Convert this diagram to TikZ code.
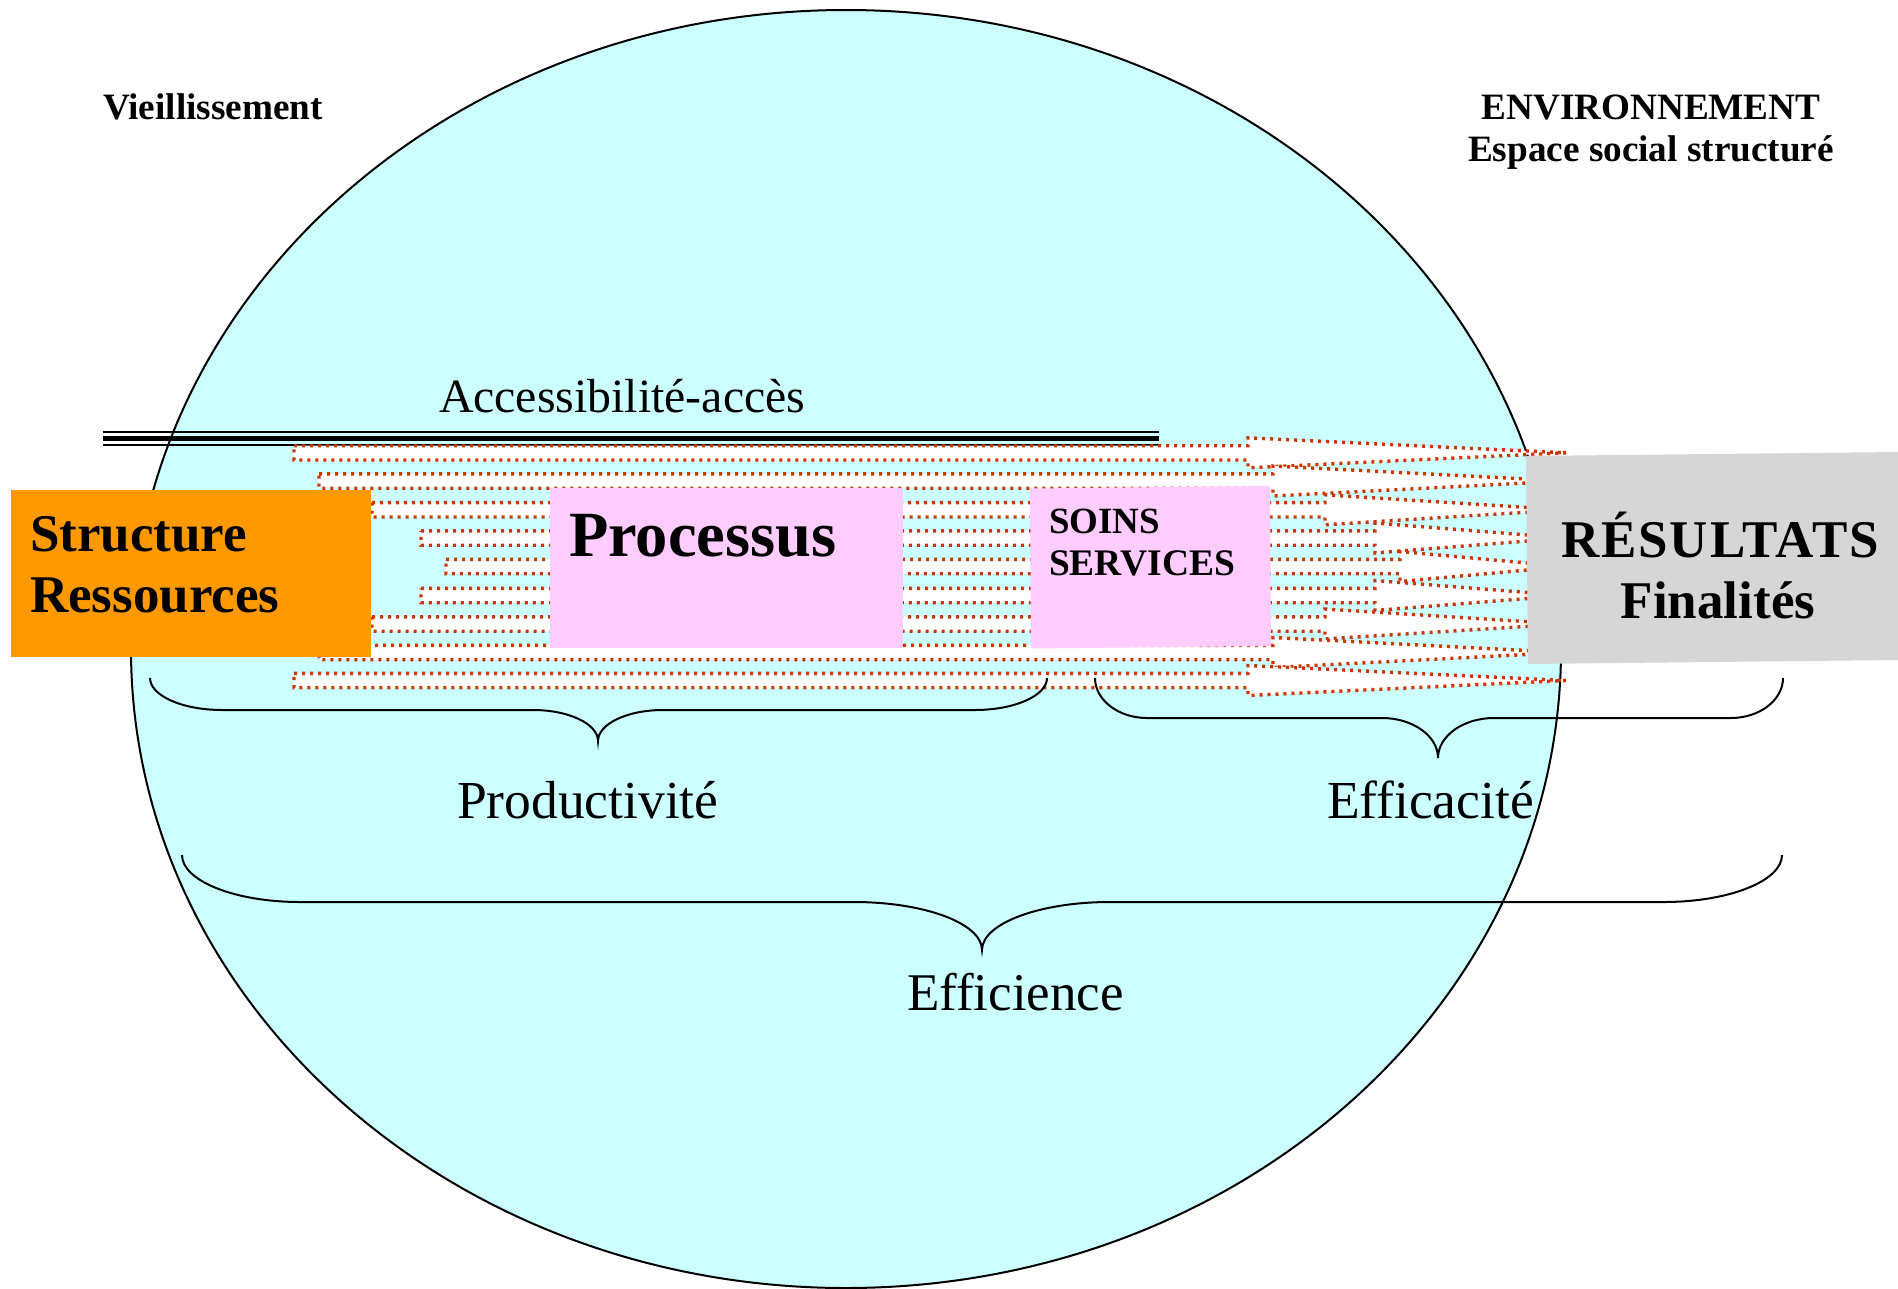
\documentclass[tikz,border=0pt]{standalone}
\usepackage{fontspec}
\setmainfont{Liberation Serif}
\definecolor{ellfill}{RGB}{204,255,255}
\definecolor{orangebox}{RGB}{255,153,0}
\definecolor{pinkbox}{RGB}{255,204,255}
\definecolor{graybox}{RGB}{214,214,214}
\definecolor{dotred}{RGB}{208,50,0}
\newcommand\myfs[1]{\fontsize{#1}{#1}\selectfont}
\begin{document}
\begin{tikzpicture}[x=1pt,y=-1pt,
  lbl/.style={inner sep=0pt, outer sep=0pt, anchor=base west},
  lblc/.style={inner sep=0pt, outer sep=0pt, anchor=base},
  band/.style={fill=white, draw=dotred, line width=3.4pt, line cap=butt, line join=miter, dash pattern=on 3pt off 5pt},
  bracket/.style={draw=black, line width=2pt},
  boxnode/.style={inner sep=0pt, outer sep=0pt, anchor=north west, draw=none}
]
\useasboundingbox (0,0) rectangle (1898,1288);
\fill[white] (0,0) rectangle (1898,1288);

% environment ellipse
\filldraw[fill=ellfill, draw=black, line width=2pt] (846,649) ellipse [x radius=715, y radius=639];

% triple line (Accessibilite)
\draw[line width=2pt] (103,431.5) -- (1159,431.5);
\draw[line width=4.5pt] (103,438.5) -- (1159,438.5);
\draw[line width=2pt] (103,444.5) -- (1159,444.5);

% dotted block arrows
\foreach \L/\B/\c in {294/1248/452.8, 319/1273/481, 372/1325/509.8, 421/1375/538, 446/1400/566.5, 421/1375/595.5, 372/1325/624, 319/1273/652.5, 294/1248/680.5}{
  \path[band] (\L,\c-7.2) -- (\B,\c-7.2) -- (\B,\c-15) -- (1566,\c) -- (\B,\c+15) -- (\B,\c+7.2) -- (\L,\c+7.2) -- cycle;
}

% boxes
\node[boxnode, fill=orangebox, minimum width=360pt, minimum height=167pt] (struct) at (11,490) {};
\node[boxnode, fill=pinkbox, minimum width=353pt, minimum height=160pt] (proc) at (550,487.5) {};
\fill[pinkbox] (1030,488.5) -- (1270,486) -- (1271,646) -- (1031,648.5) -- cycle;
\fill[graybox] (1526,456) -- (1898,452) -- (1898,660) -- (1528,664) -- cycle;

% box texts
\node[lbl, font=\myfs{53}\bfseries] (tstruct) at (30,551) {Structure};
\node[lbl, font=\myfs{53}\bfseries] (tress) at (30,612) {Ressources};
\node[lbl, font=\myfs{64.5}\bfseries] (tproc) at (569,556) {Processus};
\node[lbl, font=\myfs{37}\bfseries] (tsoins) at (1049,533) {SOINS};
\node[lbl, font=\myfs{37.5}\bfseries] (tserv) at (1049,575) {SERVICES};
\node[lblc, font=\myfs{53}\bfseries\addfontfeature{LetterSpace=3.6}] (tres) at (1720,557) {RÉSULTATS};
\node[lblc, font=\myfs{53}\bfseries] (tfin) at (1718,618) {Finalités};

% top labels
\node[lbl, font=\myfs{37.2}\bfseries] (tvieil) at (103,119) {Vieillissement};
\node[lblc, font=\myfs{37.2}\bfseries] (tenv) at (1651,119) {ENVIRONNEMENT};
\node[lblc, font=\myfs{37.2}\bfseries] (tesp) at (1651,161) {Espace social structuré};
\node[lbl, font=\myfs{47.8}] (tacc) at (439,412) {Accessibilité-accès};

% braces
\draw[bracket] (150,678) .. controls (150,695.6) and (182.4,710) .. (222,710)
  -- (533,710) .. controls (568.8,710) and (598,723.9) .. (598,741)
  .. controls (598,723.9) and (627.2,710) .. (663,710)
  -- (975,710) .. controls (1014.6,710) and (1047,695.6) .. (1047,678);
\draw[bracket] (1095,678) .. controls (1095,700) and (1118.4,718) .. (1147,718)
  -- (1382,718) .. controls (1412.8,718) and (1438,736) .. (1438,758)
  .. controls (1438,736) and (1463.2,718) .. (1494,718)
  -- (1731,718) .. controls (1759.6,718) and (1783,700) .. (1783,678);
\draw[bracket] (182,855) .. controls (182,880.9) and (235.1,902) .. (300,902)
  -- (854,902) .. controls (924.4,902) and (982,923.4) .. (982,950)
  .. controls (982,923.4) and (1039.6,902) .. (1110,902)
  -- (1664,902) .. controls (1728.9,902) and (1782,880.9) .. (1782,855);

% brace labels
\node[lbl, font=\myfs{53.5}] (tprod) at (457,818) {Productivité};
\node[lbl, font=\myfs{53.5}] (teffa) at (1327,818) {Efficacité};
\node[lbl, font=\myfs{53}] (teffi) at (907,1010) {Efficience};
\end{tikzpicture}
\end{document}
